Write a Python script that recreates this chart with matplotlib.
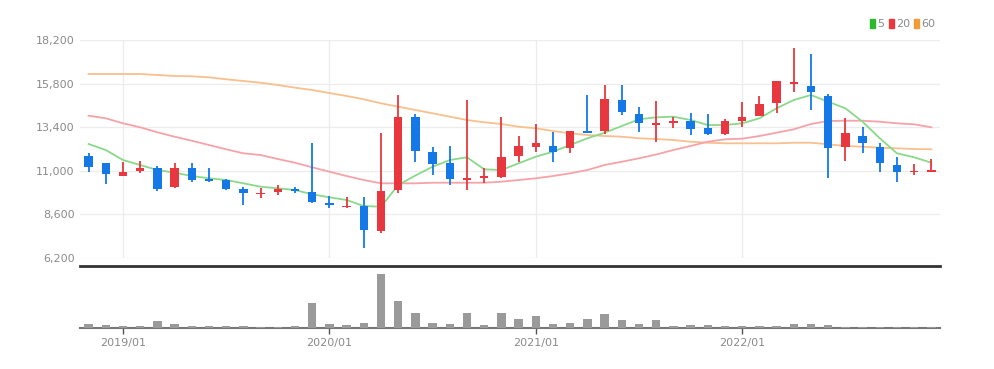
import matplotlib
matplotlib.use("Agg")
import matplotlib.pyplot as plt
from matplotlib.patches import Patch
import pandas as pd

plt.rcParams['font.family'] = ['Liberation Sans Narrow', 'DejaVu Sans']

# monthly candles, 2018/11 .. 2022/12
months = [p.strftime('%Y/%m') for p in pd.period_range('2018-11', '2022-12', freq='M')]

opens = [11820, 11410, 10730, 10990, 11140, 10090, 11170, 10550, 10490, 9980,
         9710, 9850, 10000, 9820, 9230, 8990, 9080, 7700, 9940, 13980,
         12020, 11450, 10490, 10620, 10640, 11810, 12290, 12370, 12270, 13210,
         13210, 14900, 14110, 13520, 13650, 13760, 13340, 13010, 13760, 14020,
         14720, 15790, 15680, 15130, 12290, 12920, 12330, 11320, 10920, 10950]
highs = [12000, 11430, 11500, 11540, 11260, 11410, 11450, 11140, 10570, 10090,
         10040, 10220, 10090, 12510, 9630, 9570, 9570, 13100, 15170, 14110,
         12330, 12370, 14900, 11140, 13980, 12920, 13580, 13150, 13190, 15170,
         15720, 15720, 14500, 14840, 13980, 14200, 14130, 13830, 14810, 15120,
         15940, 17740, 17410, 15230, 13920, 13430, 12550, 11740, 11370, 11630]
lows = [10950, 10270, 10720, 10860, 9900, 10080, 10380, 10360, 9960, 9100,
        9490, 9670, 9790, 9250, 8940, 8980, 6730, 7560, 9790, 11500,
        10770, 10220, 9940, 10350, 10600, 11500, 12050, 11500, 11960, 13080,
        13030, 14070, 13150, 12600, 13340, 12970, 12990, 12950, 13390, 14000,
        14170, 15350, 14350, 10620, 11560, 11960, 10950, 10400, 10770, 10930]
closes = [11230, 10810, 10950, 11170, 10000, 11140, 10490, 10440, 10000, 9760,
          9790, 9980, 9900, 9270, 9120, 9080, 7740, 9890, 13980, 12110,
          11370, 10530, 10600, 10710, 11740, 12370, 12510, 12020, 13190, 13100,
          14940, 14260, 13610, 13650, 13760, 13300, 13010, 13740, 13940, 14660,
          15940, 15890, 15350, 12270, 13100, 12550, 11450, 10950, 10990, 11040]

ma5 = [12475, 12144, 11594, 11319, 11044, 10895, 10713, 10587, 10493, 10311,
       10124, 10036, 9943, 9706, 9541, 9392, 9062, 9023, 10218, 10741,
       11225, 11594, 11743, 11082, 11044, 11412, 11776, 12051, 12420, 12789,
       13097, 13466, 13835, 13945, 13978, 13796, 13521, 13521, 13614, 13890,
       14440, 14897, 15172, 14803, 14440, 13702, 12789, 11963, 11743, 11445]
ma20 = [14033, 13890, 13614, 13394, 13119, 12877, 12656, 12420, 12183, 11963,
        11869, 11649, 11445, 11192, 10950, 10713, 10493, 10311, 10311, 10311,
        10344, 10344, 10344, 10344, 10400, 10493, 10587, 10713, 10862, 11044,
        11319, 11500, 11688, 11897, 12145, 12365, 12601, 12734, 12767, 12915,
        13097, 13284, 13576, 13741, 13757, 13757, 13702, 13614, 13559, 13394]
ma60 = [16328, 16328, 16328, 16328, 16273, 16218, 16202, 16147, 16037, 15943,
        15849, 15723, 15574, 15448, 15282, 15117, 14936, 14715, 14528, 14347,
        14165, 13978, 13796, 13669, 13576, 13427, 13339, 13190, 13064, 12970,
        12915, 12877, 12789, 12750, 12695, 12601, 12546, 12513, 12513, 12513,
        12513, 12546, 12546, 12458, 12365, 12326, 12271, 12238, 12200, 12183]

volume = [40, 33, 20, 17, 67, 40, 23, 17, 17, 17,
          10, 7, 23, 253, 40, 33, 53, 543, 270, 150,
          53, 40, 150, 33, 150, 87, 120, 40, 53, 93,
          140, 77, 40, 77, 23, 33, 33, 20, 23, 20,
          20, 40, 40, 33, 10, 10, 10, 10, 10, 10]

price_ticks = [6200, 8600, 11000, 13400, 15800, 18200]

UP = '#e8373e'
DOWN = '#1479e6'
GRAY = '#8a8a8a'

fig = plt.figure(figsize=(9.95, 3.69), dpi=100)
ax = fig.add_axes([0.0804, 0.3008, 0.8643, 0.5908])
axv = fig.add_axes([0.0804, 0.1111, 0.8643, 0.1680], sharex=ax)

x = list(range(len(months)))
year_idx = [i for i, m in enumerate(months) if m.endswith('/01')]

# candles
cols = [UP if c >= o else DOWN for o, c in zip(opens, closes)]
ax.vlines(x, lows, highs, colors=cols, linewidth=1.3, zorder=3)
bottoms = [min(o, c) for o, c in zip(opens, closes)]
heights = [max(abs(c - o), 50) for o, c in zip(opens, closes)]
ax.bar(x, heights, bottom=bottoms, width=0.48, color=cols, zorder=4)

# moving averages
ax.plot(x, ma60, color='#f8c08e', lw=1.3, zorder=2)
ax.plot(x, ma20, color='#f5a3a8', lw=1.3, zorder=2)
ax.plot(x, ma5, color='#8ad98a', lw=1.3, zorder=2)

ax.set_xlim(-0.5, 49.5)
ax.set_ylim(6200, 18200)
ax.set_yticks(price_ticks)
ax.set_yticklabels([f'{t:,}' for t in price_ticks])
ax.set_xticks(year_idx)
ax.tick_params(axis='x', length=0, labelbottom=False)
ax.tick_params(axis='y', length=0, labelsize=8, colors=GRAY, pad=4)
ax.grid(True, color='#ececec', lw=0.9)
ax.set_axisbelow(True)
for s in ax.spines.values():
    s.set_visible(False)

leg = ax.legend(handles=[Patch(color='#2db82d', label='5'),
                         Patch(color=UP, label='20'),
                         Patch(color='#f39a3b', label='60')],
                loc='lower right', bbox_to_anchor=(1.0, 1.03), ncol=3,
                frameon=False, handlelength=0.45, handleheight=0.9,
                handletextpad=0.2, columnspacing=0.4, borderaxespad=0,
                fontsize=8)
for t in leg.get_texts():
    t.set_color(GRAY)

# volume
axv.bar(x, volume, width=0.48, color='#9a9a9a', zorder=3)
axv.set_ylim(0, 620)
axv.set_yticks([])
axv.set_xticks(year_idx)
axv.set_xticklabels([months[i] for i in year_idx])
axv.tick_params(axis='x', length=4, width=1, color='#555555', labelsize=8,
                labelcolor=GRAY, pad=3)
for s in ['left', 'right']:
    axv.spines[s].set_visible(False)
axv.spines['top'].set_color('#333333')
axv.spines['top'].set_linewidth(2)
axv.spines['bottom'].set_color('#777777')
axv.spines['bottom'].set_linewidth(1.5)

fig.savefig('out.png', dpi=100)
